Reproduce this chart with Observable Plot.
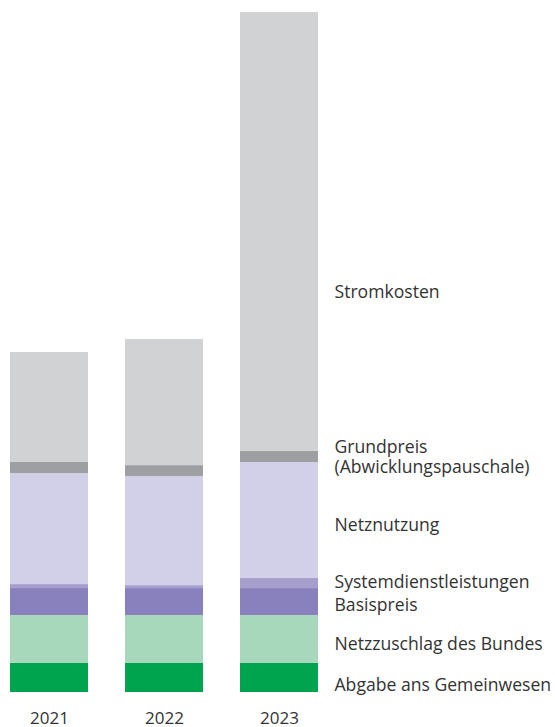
<!DOCTYPE html>
<html><head><meta charset="utf-8">
<script src="https://cdn.jsdelivr.net/npm/d3@7"></script>
<script src="https://cdn.jsdelivr.net/npm/@observablehq/plot@0.6"></script>
<style>body{margin:0;background:#fff}</style>
</head><body><div id="chart"></div>
<script>
// Data (Rp./kWh)
const years = ["2021", "2022", "2023"];
const components = [
  "Abgabe ans Gemeinwesen",
  "Netzzuschlag des Bundes",
  "Basispreis",
  "Systemdienstleistungen",
  "Netznutzung",
  "Grundpreis\n(Abwicklungspauschale)",
  "Stromkosten"
];
const abgabe       = [1.39, 1.39, 1.39];
const netzzuschlag = [2.30, 2.30, 2.30];
const basispreis   = [1.29, 1.29, 1.29];
const sdl          = [0.19, 0.14, 0.48];
const netznutzung  = [5.32, 5.22, 5.56];
const grundpreis   = [0.53, 0.53, 0.53];
const stromkosten  = [5.27, 6.04, 21.03];

const series = [abgabe, netzzuschlag, basispreis, sdl, netznutzung, grundpreis, stromkosten];
const colors = ["#00a44f", "#a8d8bb", "#8981bd", "#a69fce", "#d2d0e8", "#9e9fa2", "#d1d2d4"];

const table = [];
years.forEach((yr, i) => components.forEach((c, j) => table.push({year: yr, component: c, value: series[j][i]})));

// label positions: midpoints of the last bar's segments
const last = years.length - 1;
let acc = 0;
const labels = components.map((c, j) => {
  const v = series[j][last];
  const mid = acc + v / 2;
  acc += v;
  return {year: years[last], component: c, mid};
});
const total = acc;
const nudges = [7, 4, 3, -2, 4, 0, 60]; // pixel offsets of the labels

const fontFamily = "'Open Sans', sans-serif";

const chart = Plot.plot({
  width: 555,
  height: 727,
  marginTop: 12,
  marginBottom: 35,
  marginLeft: 0,
  marginRight: 0,
  style: {fontFamily, color: "#333", background: "#fff"},
  x: {domain: years, range: [9, 318], paddingInner: 0.322, paddingOuter: 0, label: null, axis: null},
  y: {domain: [0, total], axis: null},
  color: {domain: components, range: colors},
  marks: [
    Plot.barY(table, {x: "year", y: "value", fill: "component", order: components}),
    Plot.axisX({tickSize: 0, tickPadding: 19, fontSize: 17, label: null, fill: "#333"}),
    ...labels.map((d, j) => Plot.text([d], {
      x: "year", y: "mid", text: "component",
      dx: 55, dy: nudges[j], textAnchor: "start", lineAnchor: "middle",
      fontSize: 17.6, lineHeight: 1.1, fill: "#333"
    }))
  ]
});
document.getElementById("chart").appendChild(chart);
</script>
</body></html>
